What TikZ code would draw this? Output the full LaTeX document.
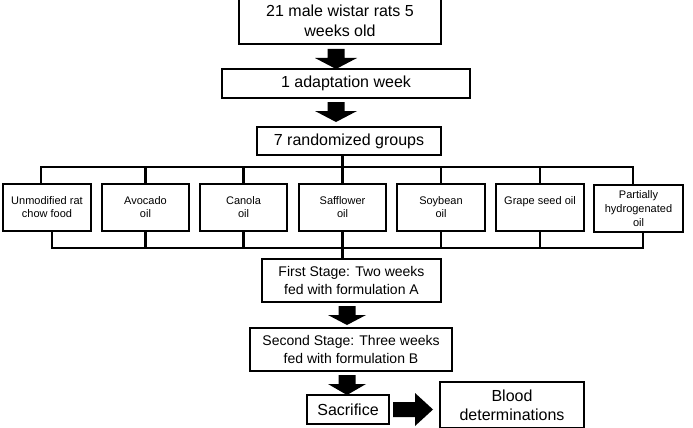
\documentclass[tikz,border=0pt]{standalone}
\usepackage{fontspec}
\setmainfont{Liberation Sans}
\newcommand\blkdown[4]{% x, ytop, length, head half width
  \fill (#1,#2) ++(-8.5,0) -- ++(17,0) -- ++(0,9) -- ++({#4-8.5},0) -- ++(-#4,{#3-9}) -- ++(-#4,{9-#3}) -- ++({#4-8.5},0) -- cycle;}
\begin{document}
\begin{tikzpicture}[x=1pt,y=-1pt,
  box/.style={draw, line width=2.6pt, inner sep=0pt, align=center},
  bigbox/.style={box, font=\fontsize{16}{20}\selectfont},
  stagebox/.style={box, font=\fontsize{14}{18.5}\selectfont},
  grp/.style={box, font=\fontsize{11}{13}\selectfont, minimum height=47pt},
  conn/.style={line width=2.6pt}]
\useasboundingbox (0,0) rectangle (693,428);
\node[bigbox, minimum width=202pt, minimum height=47pt] (top) at (340,20.5) {21 male wistar rats 5\\weeks old};
\node[bigbox, minimum width=248pt, minimum height=29pt] (adapt) at (346,83.5) {1 adaptation week};
\node[bigbox, minimum width=184pt, minimum height=28pt] (groups) at (349,141) {7 randomized groups};
\node[grp, minimum width=88pt] (b1) at (47,207.5) {Unmodified rat\\chow food};
\node[grp, minimum width=87pt] (b2) at (145.5,207.5) {Avocado\\oil};
\node[grp, minimum width=87pt] (b3) at (243.5,207.5) {Canola\\oil};
\node[grp, minimum width=87pt] (b4) at (342.5,207.5) {Safflower\\oil};
\node[grp, minimum width=88pt] (b5) at (441,207.5) {Soybean\\oil};
\node[grp, minimum width=88pt] (b6) at (540,207.5) {Grape seed oil\\\mbox{}};
\node[grp, minimum width=89pt, font=\fontsize{11}{14}\selectfont] (b7) at (638.5,208.5) {Partially\\hydrogenated\\oil};
\node[stagebox, minimum width=179pt, minimum height=43pt] (first) at (351.5,280.5) {First Stage: Two weeks\\fed with formulation A};
\node[stagebox, minimum width=202pt, minimum height=43pt] (second) at (351,349.5) {Second Stage: Three weeks\\fed with formulation B};
\node[bigbox, minimum width=82pt, minimum height=29pt] (sac) at (348,409.5) {Sacrifice};
\node[bigbox, minimum width=144pt, minimum height=46pt, font=\fontsize{16}{19}\selectfont] (blood) at (512,405) {Blood\\determinations};
% bus lines
\coordinate (hl) at (41,167);
\coordinate (hr) at (633,167);
\coordinate (bl) at (52,248);
\coordinate (br) at (643,248);
\draw[conn] (hl |- b1.north) -- (hl) -- (hr) -- (hr |- b7.north);
\foreach \n in {b2,b3,b5,b6} \draw[conn] (\n.north) -- (\n.north |- hl);
\draw[conn] (b4.north) -- (b4.north |- groups.south);
\draw[conn] (bl |- b1.south) -- (bl) -- (br) -- (br |- b7.south);
\foreach \n in {b2,b3,b5,b6} \draw[conn] (\n.south) -- (\n.south |- bl);
\draw[conn] (b4.south) -- (b4.south |- first.north);
% block arrows
\blkdown{336}{49}{20}{21}
\blkdown{336}{102}{20}{21}
\blkdown{347}{306}{19}{19}
\blkdown{347}{375}{20}{19}
\fill (393,402) -- (415,402) -- (415,393) -- (433,409.5) -- (415,426) -- (415,417) -- (393,417) -- cycle;
\end{tikzpicture}
\end{document}
